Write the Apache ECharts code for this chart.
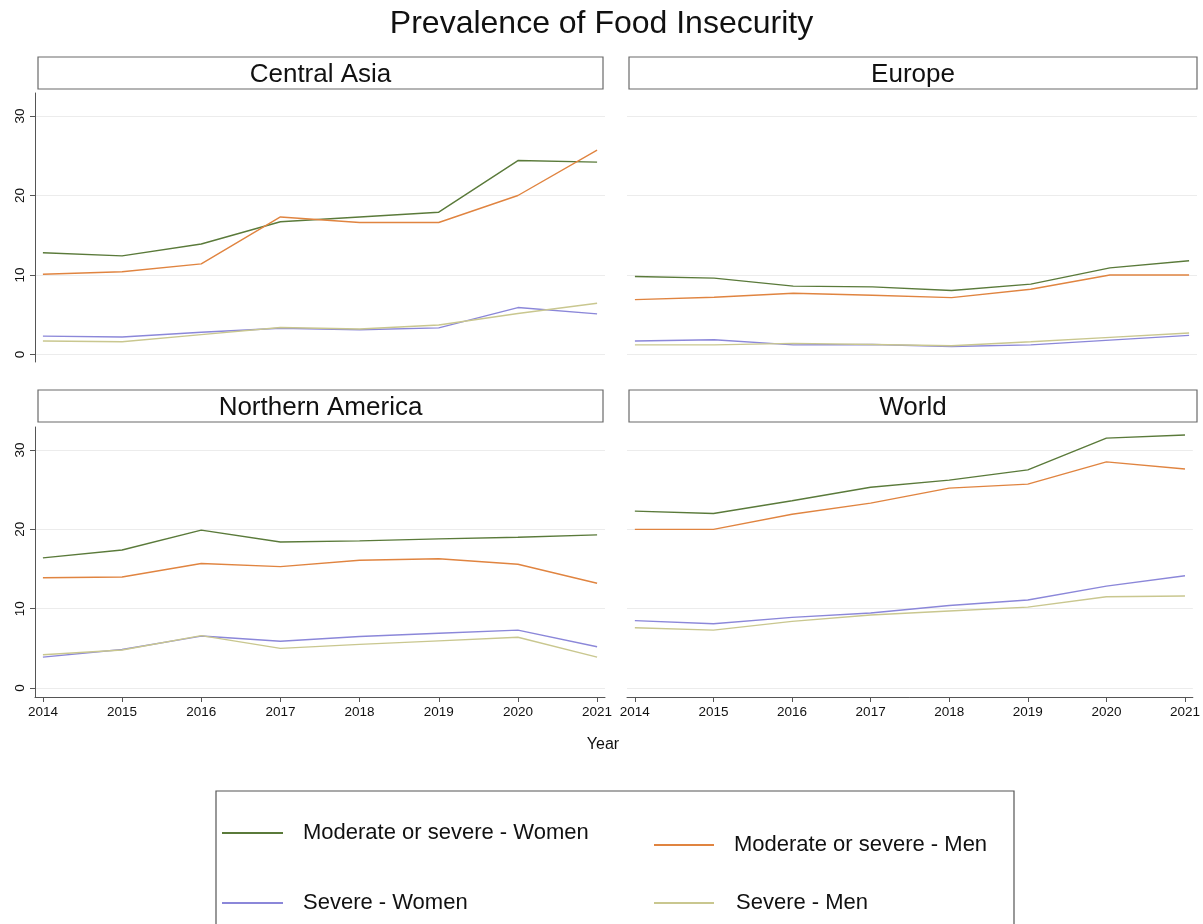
<!DOCTYPE html>
<html>
<head>
<meta charset="utf-8">
<script src="https://cdn.jsdelivr.net/npm/echarts@6/dist/echarts.min.js"></script>
<style>
html,body{margin:0;padding:0;background:#fff;}
#chart{width:1203px;height:924px;}
</style>
</head>
<body>
<div id="chart"></div>
<script>
// ---- data ----
const years = [2014, 2015, 2016, 2017, 2018, 2019, 2020, 2021];
const yTicks = [0, 10, 20, 30];
const regions = ['Central Asia', 'Europe', 'Northern America', 'World'];
const seriesNames = ['Moderate or severe - Women', 'Moderate or severe - Men', 'Severe - Women', 'Severe - Men'];

// Central Asia
const caModSevWomen = [12.8, 12.4, 13.9, 16.7, 17.3, 17.9, 24.4, 24.2];
const caModSevMen   = [10.1, 10.4, 11.4, 17.3, 16.6, 16.6, 20.0, 25.7];
const caSevWomen    = [2.3, 2.2, 2.8, 3.3, 3.1, 3.35, 5.9, 5.1];
const caSevMen      = [1.7, 1.6, 2.5, 3.4, 3.2, 3.7, 5.15, 6.45];
// Europe
const euModSevWomen = [9.8, 9.6, 8.6, 8.5, 8.05, 8.85, 10.9, 11.8];
const euModSevMen   = [6.9, 7.2, 7.7, 7.45, 7.15, 8.2, 10.0, 10.0];
const euSevWomen    = [1.7, 1.85, 1.2, 1.25, 1.0, 1.2, 1.8, 2.4];
const euSevMen      = [1.2, 1.2, 1.4, 1.25, 1.1, 1.6, 2.15, 2.7];
// Northern America
const naModSevWomen = [16.4, 17.4, 19.9, 18.4, 18.55, 18.8, 19.0, 19.3];
const naModSevMen   = [13.9, 14.0, 15.7, 15.3, 16.1, 16.3, 15.6, 13.2];
const naSevWomen    = [3.9, 4.85, 6.55, 5.9, 6.5, 6.9, 7.3, 5.2];
const naSevMen      = [4.2, 4.8, 6.6, 5.0, 5.5, 5.95, 6.4, 3.9];
// World
const wdModSevWomen = [22.3, 22.0, 23.6, 25.3, 26.2, 27.5, 31.5, 31.9];
const wdModSevMen   = [20.0, 20.0, 21.9, 23.3, 25.2, 25.7, 28.5, 27.6];
const wdSevWomen    = [8.5, 8.1, 8.9, 9.45, 10.4, 11.1, 12.85, 14.15];
const wdSevMen      = [7.6, 7.3, 8.4, 9.2, 9.7, 10.2, 11.5, 11.6];

const panelData = [
  [caModSevWomen, caModSevMen, caSevWomen, caSevMen],
  [euModSevWomen, euModSevMen, euSevWomen, euSevMen],
  [naModSevWomen, naModSevMen, naSevWomen, naSevMen],
  [wdModSevWomen, wdModSevMen, wdSevWomen, wdSevMen]
];

// ---- styling ----
const FONT = "'Liberation Sans', Arial, Helvetica, sans-serif";
const colors = ['#5a7a3a', '#e08440', '#8b87d9', '#c9c78f'];
const AXIS_COLOR = '#555';
const GRID_COLOR = '#ececec';

const grids = [
  { left: 35,  top: 93,  width: 570, height: 269 },
  { left: 627, top: 93,  width: 570, height: 269 },
  { left: 35,  top: 427, width: 570, height: 270 },
  { left: 627, top: 427, width: 570, height: 270 }
];
const yRange = [[-0.95, 32.9], [-0.95, 32.9], [-1.13, 32.9], [-1.13, 32.9]];

const xAxes = grids.map((g, i) => {
  const bottom = i >= 2;
  return {
    type: 'value', gridIndex: i, min: 2013.9, max: 2021.1,
    axisLine: { show: bottom, onZero: false, lineStyle: { color: AXIS_COLOR, width: 1 } },
    axisTick: { show: bottom, length: 5, customValues: years, lineStyle: { color: AXIS_COLOR } },
    axisLabel: { show: bottom, customValues: years, margin: 8, fontSize: 13.5, color: '#111', fontFamily: FONT,
                 formatter: v => String(Math.round(v)) },
    splitLine: { show: false }
  };
});

const yAxes = grids.map((g, i) => {
  const left = (i % 2 === 0);
  return {
    type: 'value', gridIndex: i, min: yRange[i][0], max: yRange[i][1],
    axisLine: { show: left, lineStyle: { color: AXIS_COLOR, width: 1 } },
    axisTick: { show: left, length: 5, customValues: yTicks, lineStyle: { color: AXIS_COLOR } },
    axisLabel: { show: left, customValues: yTicks, rotate: 90, margin: 8, fontSize: 13.5, color: '#111', fontFamily: FONT,
                 formatter: v => String(Math.round(v)) },
    splitLine: { show: true, lineStyle: { color: GRID_COLOR, width: 1 } }
  };
});

const series = [];
panelData.forEach((sets, p) => {
  sets.forEach((vals, s) => {
    series.push({
      type: 'line', name: seriesNames[s], xAxisIndex: p, yAxisIndex: p,
      data: years.map((y, k) => [y, vals[k]]),
      showSymbol: false, symbol: 'none', silent: true,
      lineStyle: { color: colors[s], width: 1.4 },
      itemStyle: { color: colors[s] },
      z: 2 + s
    });
  });
});

// strip headers
const strips = [
  { x: 38,  y: 57,  w: 565, h: 32 },
  { x: 629, y: 57,  w: 568, h: 32 },
  { x: 38,  y: 390, w: 565, h: 32 },
  { x: 629, y: 390, w: 568, h: 32 }
];
const graphics = [];
strips.forEach((s, i) => {
  graphics.push({
    type: 'rect', shape: { x: s.x, y: s.y, width: s.w, height: s.h },
    style: { fill: '#fff', stroke: '#6a6a6a', lineWidth: 1.2 }, z: 10
  });
  graphics.push({
    type: 'text', x: s.x + s.w / 2, y: s.y + s.h / 2 + 1.5, z: 11,
    style: { text: regions[i], fill: '#111', font: '26px ' + FONT, textAlign: 'center', textVerticalAlign: 'middle' }
  });
});
graphics.push({
  type: 'text', x: 603, y: 745, z: 11,
  style: { text: 'Year', fill: '#111', font: '16px ' + FONT, textAlign: 'center', textVerticalAlign: 'middle' }
});
graphics.push({
  type: 'rect', shape: { x: 216, y: 791, width: 798, height: 200 },
  style: { fill: 'none', stroke: '#555', lineWidth: 1.2 }, z: 10
});

function mkLegend(name, left, top, width, padText) {
  return {
    data: [name], left: left, top: top, orient: 'horizontal', padding: 0,
    icon: 'rect', itemWidth: width, itemHeight: 2, selectedMode: false,
    textStyle: { fontSize: 22, color: '#111', fontFamily: FONT, lineHeight: 26, padding: padText }
  };
}

const option = {
  animation: false,
  backgroundColor: '#fff',
  title: {
    text: 'Prevalence of Food Insecurity', left: 'center', top: 3,
    textStyle: { fontSize: 32, fontWeight: 'normal', color: '#111', fontFamily: FONT }
  },
  legend: [
    mkLegend(seriesNames[0], 222, 817, 61, [6, 0, 0, 15]),
    mkLegend(seriesNames[1], 654, 824, 60, [0, 0, 16, 15]),
    mkLegend(seriesNames[2], 222, 887, 61, [6, 0, 0, 15]),
    mkLegend(seriesNames[3], 654, 887, 60, [6, 0, 0, 17])
  ],
  grid: grids,
  xAxis: xAxes,
  yAxis: yAxes,
  series: series,
  graphic: graphics
};

const chart = echarts.init(document.getElementById('chart'), null, { renderer: 'canvas' });
chart.setOption(option);
</script>
</body>
</html>
